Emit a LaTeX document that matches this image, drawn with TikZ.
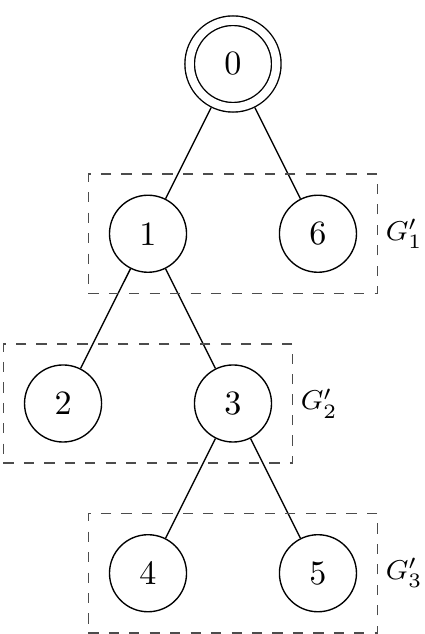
\documentclass[tikz,border=0pt]{standalone}
\usepackage{amsmath,amssymb}
\usepackage{tikz}
\usetikzlibrary{positioning,fit}

\begin{document}
\begin{tikzpicture}[x=0.876cm,y=1.75cm,
    vert/.style={draw,circle,minimum size=22.6pt,inner sep=0pt},
    rootvert/.style={draw,circle,double,double distance=2.4pt,minimum size=25.4pt,inner sep=0pt,outer sep=1.6pt},
    group/.style={draw=black!70,dashed,inner sep=6pt},
    grouplabel/.style={font=\footnotesize,inner sep=2pt}]
  \useasboundingbox (-2.742,-3.358) rectangle (2.248,0.377);
  % tree
  \node[rootvert] (n0) at (0,0) {0};
  \node[vert] (n1) at (-1,-1) {1};
  \node[vert] (n6) at (1,-1) {6};
  \node[vert] (n2) at (-2,-2) {2};
  \node[vert] (n3) at (0,-2) {3};
  \node[vert] (n4) at (-1,-3) {4};
  \node[vert] (n5) at (1,-3) {5};
  \foreach \a/\b in {n0/n1,n0/n6,n1/n2,n1/n3,n3/n4,n3/n5}
    \draw (\a) -- (\b);
  % subgraphs
  \node[group,fit=(n1)(n6)] (g1) {};
  \node[group,fit=(n2)(n3)] (g2) {};
  \node[group,fit=(n4)(n5)] (g3) {};
  \node[grouplabel,right=0pt of g1] (l1) {$G'_1$};
  \node[grouplabel,right=0pt of g2] (l2) {$G'_2$};
  \node[grouplabel,right=0pt of g3] (l3) {$G'_3$};
\end{tikzpicture}
\end{document}
